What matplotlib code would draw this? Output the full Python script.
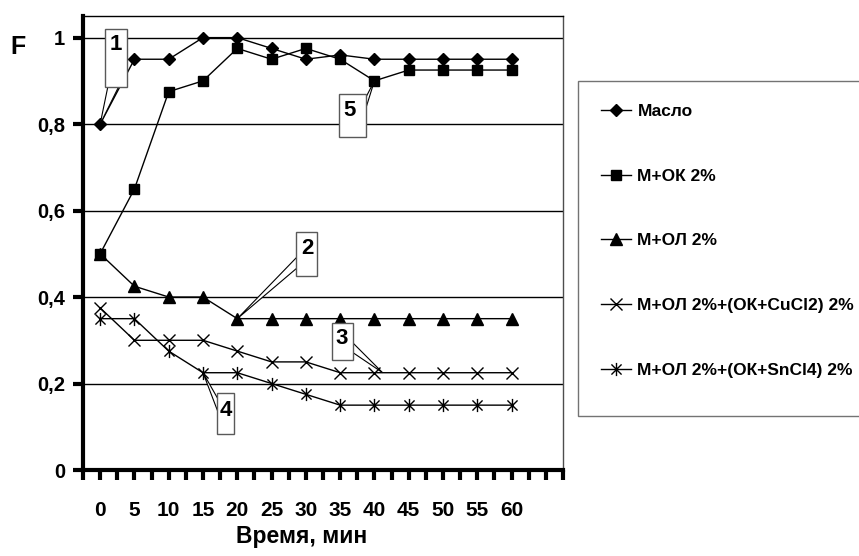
import numpy as np
import matplotlib
matplotlib.use("Agg")
import matplotlib.pyplot as plt
from matplotlib.path import Path
from matplotlib.patches import Rectangle, Polygon

plt.rcParams['font.family'] = ['Liberation Sans', 'DejaVu Sans']
plt.rcParams['font.weight'] = 'bold'

# --- data ---
times = [0, 5, 10, 15, 20, 25, 30, 35, 40, 45, 50, 55, 60]
maslo = [0.8, 0.95, 0.95, 1.0, 1.0, 0.975, 0.95, 0.96, 0.95, 0.95, 0.95, 0.95, 0.95]
m_ok = [0.5, 0.65, 0.875, 0.9, 0.975, 0.95, 0.975, 0.95, 0.9, 0.925, 0.925, 0.925, 0.925]
m_ol = [0.5, 0.425, 0.4, 0.4, 0.35, 0.35, 0.35, 0.35, 0.35, 0.35, 0.35, 0.35, 0.35]
m_cu = [0.375, 0.3, 0.3, 0.3, 0.275, 0.25, 0.25, 0.225, 0.225, 0.225, 0.225, 0.225, 0.225]
m_sn = [0.35, 0.35, 0.275, 0.225, 0.225, 0.2, 0.175, 0.15, 0.15, 0.15, 0.15, 0.15, 0.15]
labels = ['Масло', 'М+ОК 2%', 'М+ОЛ 2%', 'М+ОЛ 2%+(ОК+CuCl2) 2%', 'М+ОЛ 2%+(ОК+SnCl4) 2%']
yticks = [0, 0.2, 0.4, 0.6, 0.8, 1.0]
ytick_labels = ['0', '0,2', '0,4', '0,6', '0,8', '1']

W, H = 859, 556
fig = plt.figure(figsize=(W / 100, H / 100), dpi=100)


def fx(x):
    return x / W


def fy(y):
    return 1 - y / H


ax = fig.add_axes([fx(83), fy(470), fx(563) - fx(83), fy(16) - fy(470)])

# asterisk marker: X plus vertical bar
star = Path([(-1, -1), (1, 1), (-1, 1), (1, -1), (0, -1.3), (0, 1.3)],
            [Path.MOVETO, Path.LINETO, Path.MOVETO, Path.LINETO, Path.MOVETO, Path.LINETO])

series = [
    (maslo, dict(marker='D', ms=6.5, mfc='black')),
    (m_ok, dict(marker='s', ms=7, mfc='black')),
    (m_ol, dict(marker='^', ms=8, mfc='black')),
    (m_cu, dict(marker='x', ms=8, mew=1)),
    (m_sn, dict(marker=star, ms=9.5, mew=1, mfc='none')),
]
handles = []
for vals, st in series:
    ln, = ax.plot(times, vals, color='black', lw=1, mec='black', clip_on=False, zorder=4, **st)
    handles.append(ln)

ax.set_xlim(-2.5, 67.5)
ax.set_ylim(0, 1.05)

xt = np.arange(-2.5, 67.6, 2.5)
ax.set_xticks(xt)
ax.set_xticklabels([str(int(t)) if t in times else '' for t in xt])
ax.set_yticks(yticks)
ax.set_yticklabels(ytick_labels)
ax.tick_params(axis='x', direction='out', length=7, width=3, pad=15, labelsize=15)
ax.tick_params(axis='y', direction='out', length=7, width=3, pad=6, labelsize=14.5)

ax.yaxis.grid(True, color='black', lw=1)
ax.set_axisbelow(True)
for s in ['left', 'bottom']:
    ax.spines[s].set_linewidth(3)
ax.spines['top'].set_linewidth(1)
ax.spines['right'].set_linewidth(1)
ax.spines['right'].set_color('0.3')

fig.text(fx(18), fy(47), 'F', ha='center', va='center', fontsize=18, fontweight='bold')
fig.text(fx(302), fy(537), 'Время, мин', ha='center', va='center', fontsize=16.5, fontweight='bold')

# --- numbered callouts ---
fig.canvas.draw()
to_fig = fig.transFigure.inverted()


def data_to_fig(x, y):
    return to_fig.transform(ax.transData.transform((x, y)))


callouts = [
    # text, box (x0, y0, x1, y1) px, text pos px, wedge base px, target (x, y) data
    ('1', (105, 29, 127, 87), (116, 45), [(108, 86), (119, 86)], (times[0], maslo[0])),
    ('5', (339, 94, 366, 137), (350, 111), [(365, 99), (365, 111)], (times[8], m_ok[8])),
    ('2', (296, 232, 317, 276), (307, 249), [(297, 257), (297, 268)], (times[4], m_ol[4])),
    ('3', (332, 323, 353, 360), (342, 339), [(352, 342), (352, 352)], (41.2, m_cu[8])),
    ('4', (217, 393, 234, 434), (226, 411), [(218, 399), (218, 412)], (times[3], m_sn[3])),
]
for txt, (x0, y0, x1, y1), (tx, ty), base, target in callouts:
    tip = data_to_fig(*target)
    pts = [(fx(bx), fy(by)) for bx, by in base] + [tuple(tip)]
    fig.patches.append(Polygon(pts, closed=True, facecolor='white', edgecolor='black',
                               lw=0.8, transform=fig.transFigure, zorder=5))
    fig.patches.append(Rectangle((fx(x0), fy(y1)), fx(x1) - fx(x0), fy(y0) - fy(y1),
                                 facecolor='white', edgecolor='0.35', lw=1,
                                 transform=fig.transFigure, zorder=6))
    fig.text(fx(tx), fy(ty), txt, ha='center', va='center', fontsize=16,
             fontweight='bold', zorder=7)

# --- legend ---
fig.patches.append(Rectangle((fx(578), fy(416)), fx(900) - fx(578), fy(81) - fy(416),
                             facecolor='white', edgecolor='0.45', lw=1,
                             transform=fig.transFigure, zorder=1))
leg = fig.legend(handles, labels, loc='upper left', bbox_to_anchor=(fx(601), fy(104)),
                 frameon=False, prop={'weight': 'bold', 'size': 12.5},
                 handlelength=1.7, handletextpad=0.4, labelspacing=2.85,
                 borderpad=0, borderaxespad=0)
leg.set_zorder(3)

fig.savefig('out.png', dpi=100)
